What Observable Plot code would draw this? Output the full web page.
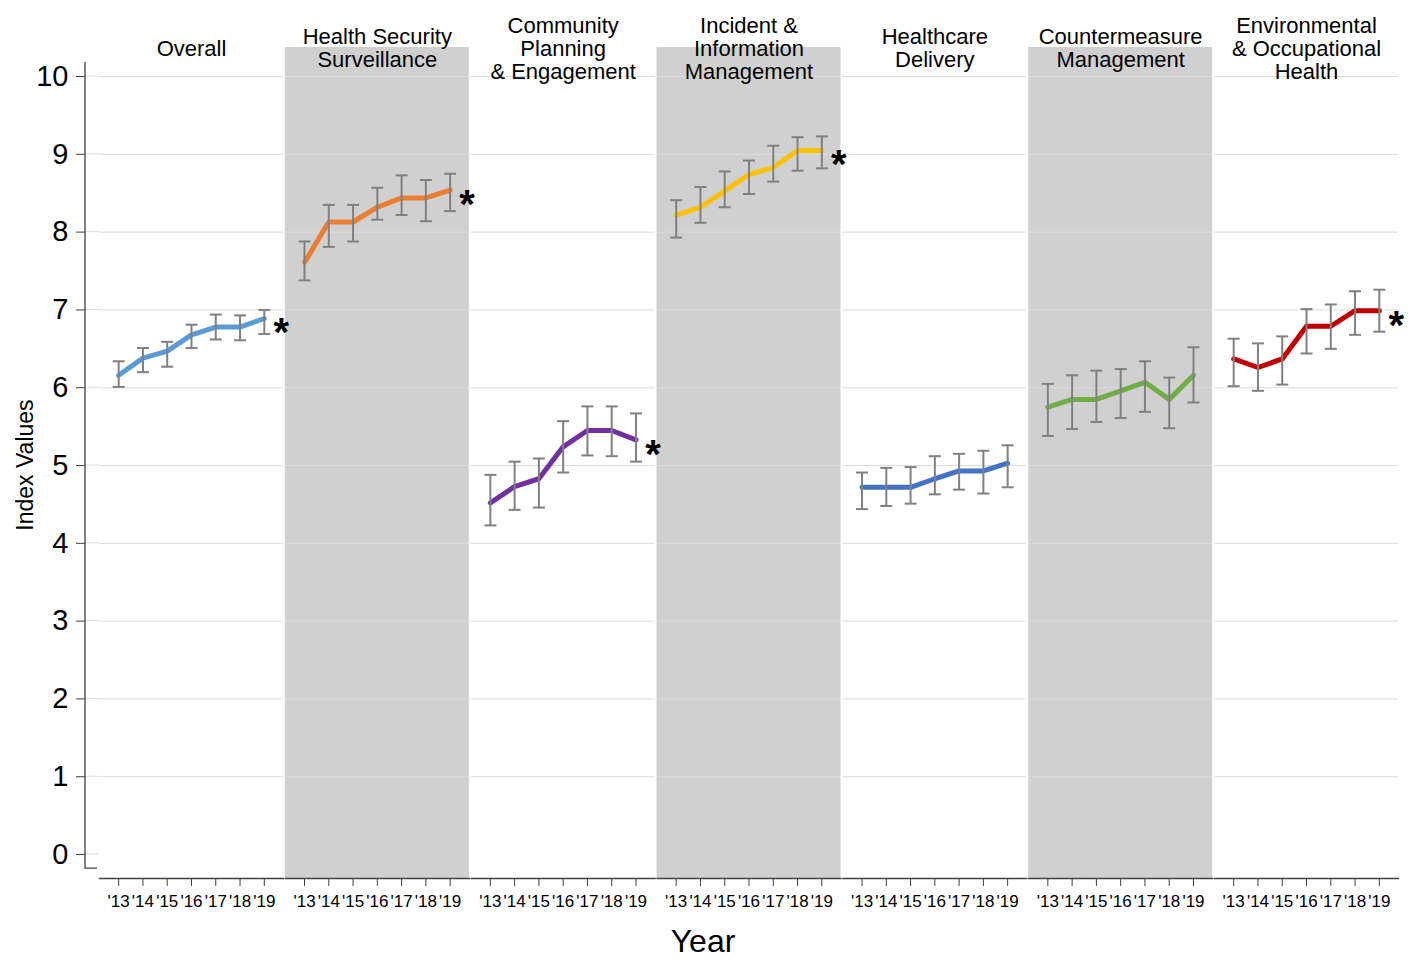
<!DOCTYPE html>
<html>
<head>
<meta charset="utf-8">
<script src="https://cdn.jsdelivr.net/npm/d3@7"></script>
<script src="https://cdn.jsdelivr.net/npm/@observablehq/plot@0.6"></script>
<style>
  body { margin: 0; background: #fff; }
  svg { display: block; font-family: "Liberation Sans", Arial, sans-serif; }
</style>
</head>
<body>
<div id="chart"></div>
<script>
// ---------- data ----------
const categories = [
  "Overall",
  "Health Security Surveillance",
  "Community Planning & Engagement",
  "Incident & Information Management",
  "Healthcare Delivery",
  "Countermeasure Management",
  "Environmental & Occupational Health"
];
const titles = [
  "Overall",
  "Health Security\nSurveillance",
  "Community\nPlanning\n& Engagement",
  "Incident &\nInformation\nManagement",
  "Healthcare\nDelivery",
  "Countermeasure\nManagement",
  "Environmental\n& Occupational\nHealth"
];
const years = [2013, 2014, 2015, 2016, 2017, 2018, 2019];
const yearLabels = ["'13", "'14", "'15", "'16", "'17", "'18", "'19"];
const yTicks = [0, 1, 2, 3, 4, 5, 6, 7, 8, 9, 10];
const gridValues = [1, 2, 3, 4, 5, 6, 7, 8, 9, 10];
const shaded = ["Health Security Surveillance", "Incident & Information Management", "Countermeasure Management"];
const significant = [true, true, true, true, false, false, true];
const colors = ["#5b9bd5", "#ed7d31", "#7030a0", "#ffc000", "#4472c4", "#70ad47", "#c00000"];

const overall   = [6.16, 6.38, 6.47, 6.68, 6.78, 6.78, 6.89];
const overallLo = [6.01, 6.20, 6.27, 6.51, 6.62, 6.61, 6.69];
const overallHi = [6.34, 6.51, 6.59, 6.81, 6.94, 6.93, 7.00];

const hss   = [7.61, 8.13, 8.13, 8.32, 8.44, 8.44, 8.54];
const hssLo = [7.38, 7.81, 7.88, 8.16, 8.22, 8.14, 8.27];
const hssHi = [7.88, 8.35, 8.35, 8.57, 8.73, 8.67, 8.75];

const cpe   = [4.52, 4.73, 4.83, 5.24, 5.45, 5.45, 5.33];
const cpeLo = [4.23, 4.43, 4.46, 4.91, 5.13, 5.12, 5.05];
const cpeHi = [4.88, 5.05, 5.09, 5.57, 5.76, 5.76, 5.67];

const iim   = [8.22, 8.32, 8.53, 8.74, 8.83, 9.05, 9.05];
const iimLo = [7.93, 8.12, 8.32, 8.49, 8.65, 8.79, 8.82];
const iimHi = [8.41, 8.58, 8.78, 8.92, 9.11, 9.22, 9.23];

const hcd   = [4.72, 4.72, 4.72, 4.83, 4.93, 4.93, 5.03];
const hcdLo = [4.44, 4.48, 4.51, 4.63, 4.69, 4.64, 4.72];
const hcdHi = [4.91, 4.97, 4.98, 5.12, 5.15, 5.19, 5.26];

const cm   = [5.75, 5.85, 5.85, 5.96, 6.07, 5.85, 6.16];
const cmLo = [5.38, 5.47, 5.56, 5.61, 5.69, 5.48, 5.81];
const cmHi = [6.05, 6.16, 6.22, 6.24, 6.34, 6.13, 6.52];

const eoh   = [6.37, 6.26, 6.37, 6.79, 6.79, 6.99, 6.99];
const eohLo = [6.02, 5.96, 6.04, 6.44, 6.50, 6.68, 6.72];
const eohHi = [6.63, 6.57, 6.66, 7.01, 7.07, 7.24, 7.26];

// ---------- table built from arrays ----------
const series = [
  [overall, overallLo, overallHi],
  [hss, hssLo, hssHi],
  [cpe, cpeLo, cpeHi],
  [iim, iimLo, iimHi],
  [hcd, hcdLo, hcdHi],
  [cm, cmLo, cmHi],
  [eoh, eohLo, eohHi]
];
const rows = categories.flatMap((c, i) => years.map((yr, j) => ({
  category: c, year: yr, value: series[i][0][j], lo: series[i][1][j], hi: series[i][2][j], color: colors[i]
})));
const starRows = rows.filter(d => d.year === years[years.length - 1] && significant[categories.indexOf(d.category)]);

// horizontal cap symbol for error bars
const capSymbol = {
  draw(context, size) {
    const w = Math.sqrt(size / Math.PI);
    context.moveTo(-w, 0);
    context.lineTo(w, 0);
  }
};

// layout constants
const Y_DOMAIN = [-0.308, 10.373];
const AXIS_TOP = 10.18, AXIS_BOTTOM = -0.18;
const AXIS_SHIFT = 14;

const chart = Plot.plot({
  width: 1413,
  height: 960,
  marginLeft: 99,
  marginRight: 15,
  marginTop: 47,
  marginBottom: 82,
  style: { fontFamily: "'Liberation Sans', Arial, sans-serif", background: "white", overflow: "visible" },
  fx: { domain: categories, paddingInner: 0.01, paddingOuter: 0, round: false, axis: null, label: null },
  x: { type: "point", domain: years, padding: 0.79, round: false, axis: null },
  y: { domain: Y_DOMAIN, axis: null },
  color: { type: "identity" },
  marks: [
    Plot.rect(shaded, { fx: d => d, fill: "#d0d0d0" }),
    Plot.ruleY(gridValues, { y: d => d, stroke: "#dcdcdc", strokeWidth: 1 }),
    Plot.frame({ anchor: "bottom", stroke: "#404040", strokeWidth: 1.3 }),
    Plot.axisX({
      tickSize: 8, tickPadding: 8, fontSize: 17, stroke: "#404040", label: null,
      tickFormat: d => yearLabels[years.indexOf(d)]
    }),
    Plot.axisY({
      ticks: yTicks, tickSize: 9, tickPadding: 8, fontSize: 29, dx: -AXIS_SHIFT,
      stroke: "#404040", label: null, tickFormat: d => String(d)
    }),
    Plot.line(rows, {
      fx: "category", x: "year", y: "value", z: "category", stroke: "color",
      strokeWidth: 5, strokeLinecap: "round", strokeLinejoin: "round"
    }),
    Plot.ruleX(rows, { fx: "category", x: "year", y1: "lo", y2: "hi", stroke: "#808080", strokeWidth: 2 }),
    Plot.dot(rows, { fx: "category", x: "year", y: "lo", symbol: capSymbol, r: 6, stroke: "#808080", strokeWidth: 2, fill: "none" }),
    Plot.dot(rows, { fx: "category", x: "year", y: "hi", symbol: capSymbol, r: 6, stroke: "#808080", strokeWidth: 2, fill: "none" }),
    Plot.text(starRows, {
      fx: "category", x: "year", y: "value", text: () => "*",
      fontSize: 40, fontWeight: "bold", fill: "black", dx: 17, dy: 15
    }),
    Plot.text(categories, {
      fx: d => d, text: (d, i) => titles[i], frameAnchor: "top",
      lineAnchor: "middle", fontSize: 22, lineHeight: 1.05, fill: "black", dy: 1
    })
  ]
});

document.getElementById("chart").appendChild(chart);

// ---------- y-axis line, label, x-axis title ----------
const svg = d3.select(chart);
const yS = chart.scale("y");
const fxS = chart.scale("fx");
const left = fxS.apply(categories[0]);
const ax = left - AXIS_SHIFT;
const yTop = yS.apply(AXIS_TOP), yBot = yS.apply(AXIS_BOTTOM);

const g = svg.append("g");
// faint tick extensions between axis and panel
g.selectAll("line.ext").data(yTicks).join("line")
  .attr("x1", ax).attr("x2", left)
  .attr("y1", d => yS.apply(d)).attr("y2", d => yS.apply(d))
  .attr("stroke", "#dcdcdc").attr("stroke-width", 1);
g.append("path")
  .attr("d", `M${ax},${yTop}V${yBot}H${left - 2}`)
  .attr("fill", "none").attr("stroke", "#404040").attr("stroke-width", 1.3);

g.append("text")
  .attr("transform", `translate(25,${yS.apply(5)}) rotate(-90)`)
  .attr("text-anchor", "middle").attr("dominant-baseline", "central")
  .attr("font-size", 23).attr("fill", "black")
  .text("Index Values");

g.append("text")
  .attr("x", 703).attr("y", 952)
  .attr("text-anchor", "middle")
  .attr("font-size", 32).attr("fill", "black")
  .text("Year");
</script>
</body>
</html>
